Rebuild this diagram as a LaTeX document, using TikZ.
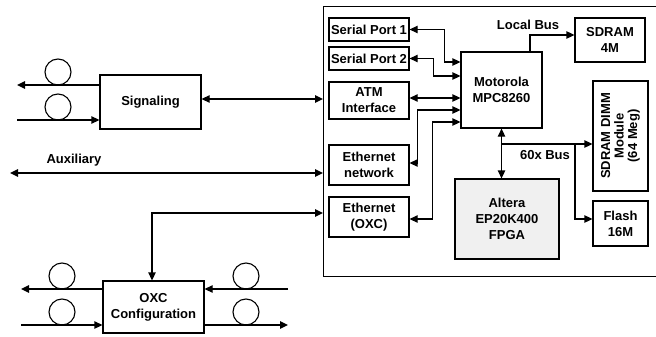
\documentclass[tikz,border=0pt]{standalone}
\usepackage{fontspec}
\setmainfont{Liberation Sans}
\usetikzlibrary{arrows.meta}
\begin{document}
\begin{tikzpicture}[x=1pt,y=-1pt,
  every node/.style={font=\fontsize{13}{16}\selectfont\bfseries, inner sep=0pt},
  blk/.style={draw, line width=1.3pt, align=center},
  wire/.style={line width=1.3pt},
  tip/.style={-{Triangle[length=8pt,width=7.5pt]}},
  tips/.style={{Triangle[length=8pt,width=7.5pt]}-{Triangle[length=8pt,width=7.5pt]}},
  fibre/.style={line width=1.1pt}]
\useasboundingbox (0,0) rectangle (656,337);

% processor board (right edge runs off the page)
\node[draw, line width=1.3pt, minimum width=360pt, minimum height=270pt, anchor=north west] (board) at (323,6) {};

% board blocks
\node[blk, minimum width=80pt, minimum height=23pt] (sp1) at (369,29.5) {Serial Port 1};
\node[blk, minimum width=80pt, minimum height=23pt] (sp2) at (369,58.5) {Serial Port 2};
\node[blk, minimum width=80pt, minimum height=37pt] (atm) at (369,100.5) {ATM\\Interface};
\node[blk, minimum width=80pt, minimum height=40pt] (ethn) at (369,165) {Ethernet\\network};
\node[blk, minimum width=80pt, minimum height=40pt] (etho) at (369,217) {Ethernet\\(OXC)};
\node[blk, minimum width=81pt, minimum height=76pt] (mpc) at (501.5,90) {Motorola\\MPC8260};
\node[blk, minimum width=70pt, minimum height=44pt] (sdram) at (610,40) {SDRAM\\4M};
\node[blk, minimum width=55pt, minimum height=110pt] (dimm) at (620.5,136) {};
\node[rotate=90, align=center, font=\fontsize{13}{13.5}\selectfont\bfseries] at (dimm.center) {SDRAM DIMM\\Module\\(64 Meg)};
\node[blk, minimum width=55pt, minimum height=45pt] (flash) at (620.5,223.5) {Flash\\16M};
\node[blk, fill=black!6, minimum width=104pt, minimum height=80pt] (altera) at (507,219) {Altera\\EP20K400\\FPGA};

% outside blocks
\node[blk, minimum width=101pt, minimum height=54pt] (sig) at (150.5,102) {Signaling};
\node[blk, minimum width=101pt, minimum height=52pt] (oxc) at (153.5,307) {OXC\\Configuration};

% bus labels
\node (lbus) at (528,25) {Local Bus};
\node (xbus) at (545,155) {60x Bus};
\node (aux) at (74,160) {Auxiliary};

% processor peripherals
\draw[wire, tips] (sp1.east) -- ++(35,0) |- (mpc.west |- 0,62);
\draw[wire, tips] (sp2.east) -- ++(24,0) |- (mpc.west |- 0,76);
\draw[wire, tips] (atm.east |- 0,98) -- (mpc.west |- 0,98);
\draw[wire, tips] (mpc.west |- 0,110) -- ++(-43,0) |- (ethn.east |- 0,163);
\draw[wire, tips] (mpc.west |- 0,122) -- ++(-28,0) |- (etho.east |- 0,219);

% local bus
\draw[wire, tip] (mpc.north -| 530,0) |- (sdram.west |- 0,35);

% 60x bus
\coordinate (j60) at (mpc.south |- 0,144);
\coordinate (jfl) at (575,144);
\draw[wire, tips] (mpc.south) -- (altera.north -| mpc.south);
\draw[wire, tip] (j60) -- (dimm.west |- j60);
\draw[wire, tip] (jfl) |- (flash.west |- 0,219);

% links to the board
\coordinate (auxL) at (10,173);
\draw[wire, tips] (sig.east |- 0,99) -- (board.west |- 0,99);
\draw[wire, tips] (auxL) -- (board.west |- auxL);
\draw[wire, tips] (board.west |- 0,213) -| (oxc.north -| 152,0);

% fibres at the signaling block
\coordinate (sigOut) at (17,85);
\coordinate (sigIn) at (17,120);
\draw[wire, tip] (sig.west |- sigOut) -- (sigOut);
\draw[wire, tip] (sigIn) -- (sig.west |- sigIn);
\draw[fibre] (58,72) circle (13);
\draw[fibre] (58,107) circle (13);

% fibres at the OXC block
\coordinate (oxcOutL) at (21,289);
\coordinate (oxcInL) at (21,325);
\coordinate (oxcInR) at (288,289);
\coordinate (oxcOutR) at (288,325);
\draw[wire, tip] (oxc.west |- oxcOutL) -- (oxcOutL);
\draw[wire, tip] (oxcInL) -- (oxc.west |- oxcInL);
\draw[wire, tip] (oxcInR) -- (oxc.east |- oxcInR);
\draw[wire, tip] (oxc.east |- oxcOutR) -- (oxcOutR);
\draw[fibre] (62,276) circle (13);
\draw[fibre] (62,312) circle (13);
\draw[fibre] (246,276) circle (13);
\draw[fibre] (246,312) circle (13);
\end{tikzpicture}
\end{document}
